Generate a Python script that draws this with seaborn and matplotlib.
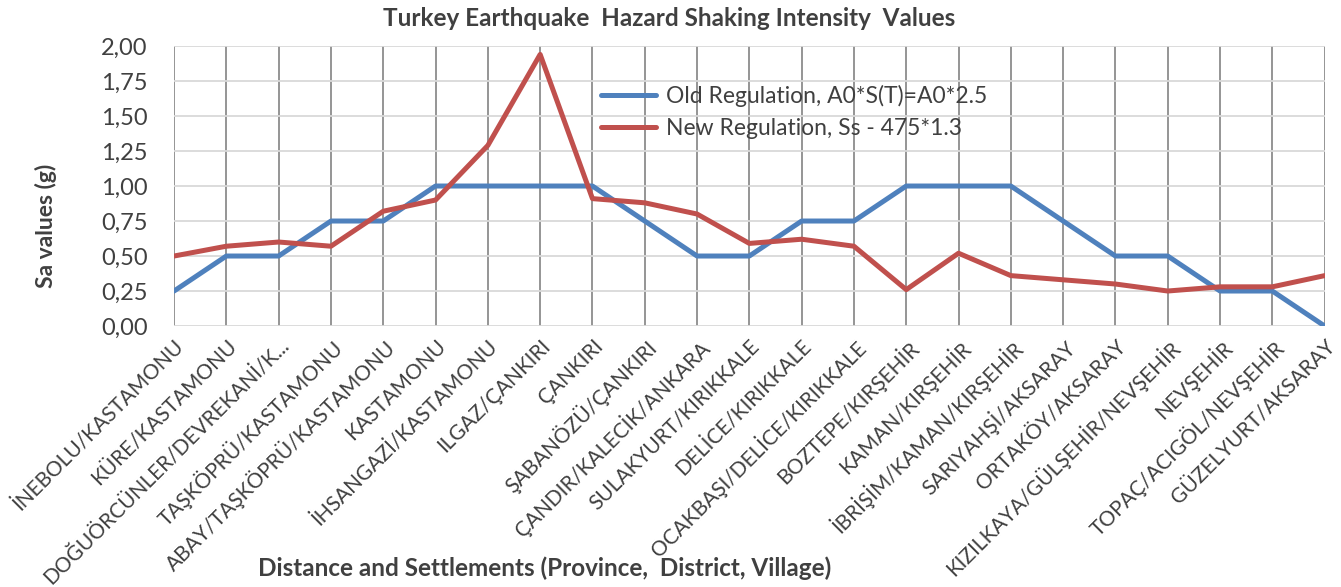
import pandas as pd
import matplotlib.pyplot as plt
import seaborn as sns
from matplotlib.ticker import FuncFormatter

settlements = [
    "İNEBOLU/KASTAMONU", "KÜRE/KASTAMONU", "DOĞUÖRCÜNLER/DEVREKANİ/K...",
    "TAŞKÖPRÜ/KASTAMONU", "ABAY/TAŞKÖPRÜ/KASTAMONU", "KASTAMONU",
    "İHSANGAZİ/KASTAMONU", "ILGAZ/ÇANKIRI", "ÇANKIRI", "ŞABANÖZÜ/ÇANKIRI",
    "ÇANDIR/KALECİK/ANKARA", "SULAKYURT/KIRIKKALE", "DELİCE/KIRIKKALE",
    "OCAKBAŞI/DELİCE/KIRIKKALE", "BOZTEPE/KIRŞEHİR", "KAMAN/KIRŞEHİR",
    "İBRİŞİM/KAMAN/KIRŞEHİR", "SARIYAHŞİ/AKSARAY", "ORTAKÖY/AKSARAY",
    "KIZILKAYA/GÜLŞEHİR/NEVŞEHİR", "NEVŞEHİR", "TOPAÇ/ACIGÖL/NEVŞEHİR",
    "GÜZELYURT/AKSARAY",
]
old_reg = [0.25, 0.50, 0.50, 0.75, 0.75, 1.00, 1.00, 1.00, 1.00, 0.75, 0.50,
           0.50, 0.75, 0.75, 1.00, 1.00, 1.00, 0.75, 0.50, 0.50, 0.25, 0.25, 0.00]
new_reg = [0.50, 0.57, 0.60, 0.57, 0.82, 0.90, 1.29, 1.94, 0.91, 0.88, 0.80,
           0.59, 0.62, 0.57, 0.26, 0.52, 0.36, 0.33, 0.30, 0.25, 0.28, 0.28, 0.36]
series_names = ["Old Regulation, A0*S(T)=A0*2.5", "New Regulation, Ss - 475*1.3"]

df = pd.DataFrame({
    "pos": list(range(len(settlements))) * 2,
    "value": old_reg + new_reg,
    "series": [series_names[0]] * len(old_reg) + [series_names[1]] * len(new_reg),
})

sns.set_style("white")
plt.rcParams['font.family'] = ['Lato', 'DejaVu Sans']
txt = "#404040"

fig = plt.figure(figsize=(13.41, 5.87), dpi=100)
ax = fig.add_axes([0.1298, 0.4446, 0.858, 0.477])

sns.lineplot(data=df, x="pos", y="value", hue="series",
             palette=["#4F81BD", "#C0504D"], linewidth=3.6, ax=ax)

ax.set_xlim(0, len(settlements) - 1)
ax.set_ylim(0, 2.0)
ax.set_yticks([i * 0.25 for i in range(9)])
ax.yaxis.set_major_formatter(FuncFormatter(lambda v, p: f"{v:.2f}".replace(".", ",")))
ax.set_xticks(range(len(settlements)))
ax.set_xticklabels(settlements, rotation=45, ha="right", rotation_mode="anchor",
                   fontsize=15, color=txt)
ax.tick_params(axis="y", labelsize=17, labelcolor=txt, length=0, pad=19)
ax.tick_params(axis="x", length=0, pad=7)

ax.grid(axis="x", color="#8c8c8c", linewidth=1.3)
ax.grid(axis="y", color="#d9d9d9", linewidth=1.3)
ax.set_axisbelow(True)
for s in ax.spines.values():
    s.set_visible(False)

ax.set_xlabel("")
ax.set_ylabel("")
fig.text(0.499, 0.968, "Turkey Earthquake  Hazard Shaking Intensity  Values",
         fontsize=17.5, fontweight="bold", color=txt, ha="center", va="center")
fig.text(0.034, 0.615, "Sa values (g)", fontsize=16.5, fontweight="bold",
         color=txt, rotation=90, ha="center", va="center")
fig.text(0.406, 0.032, "Distance and Settlements (Province,  District, Village)",
         fontsize=17.5, fontweight="bold", color=txt, ha="center", va="center")

ax.legend(loc="upper left", bbox_to_anchor=(0.353, 0.935), frameon=False,
          fontsize=16.5, handlelength=2.4, handletextpad=0.45, labelspacing=0.5,
          labelcolor=txt)

fig.savefig("out.png", dpi=100)
